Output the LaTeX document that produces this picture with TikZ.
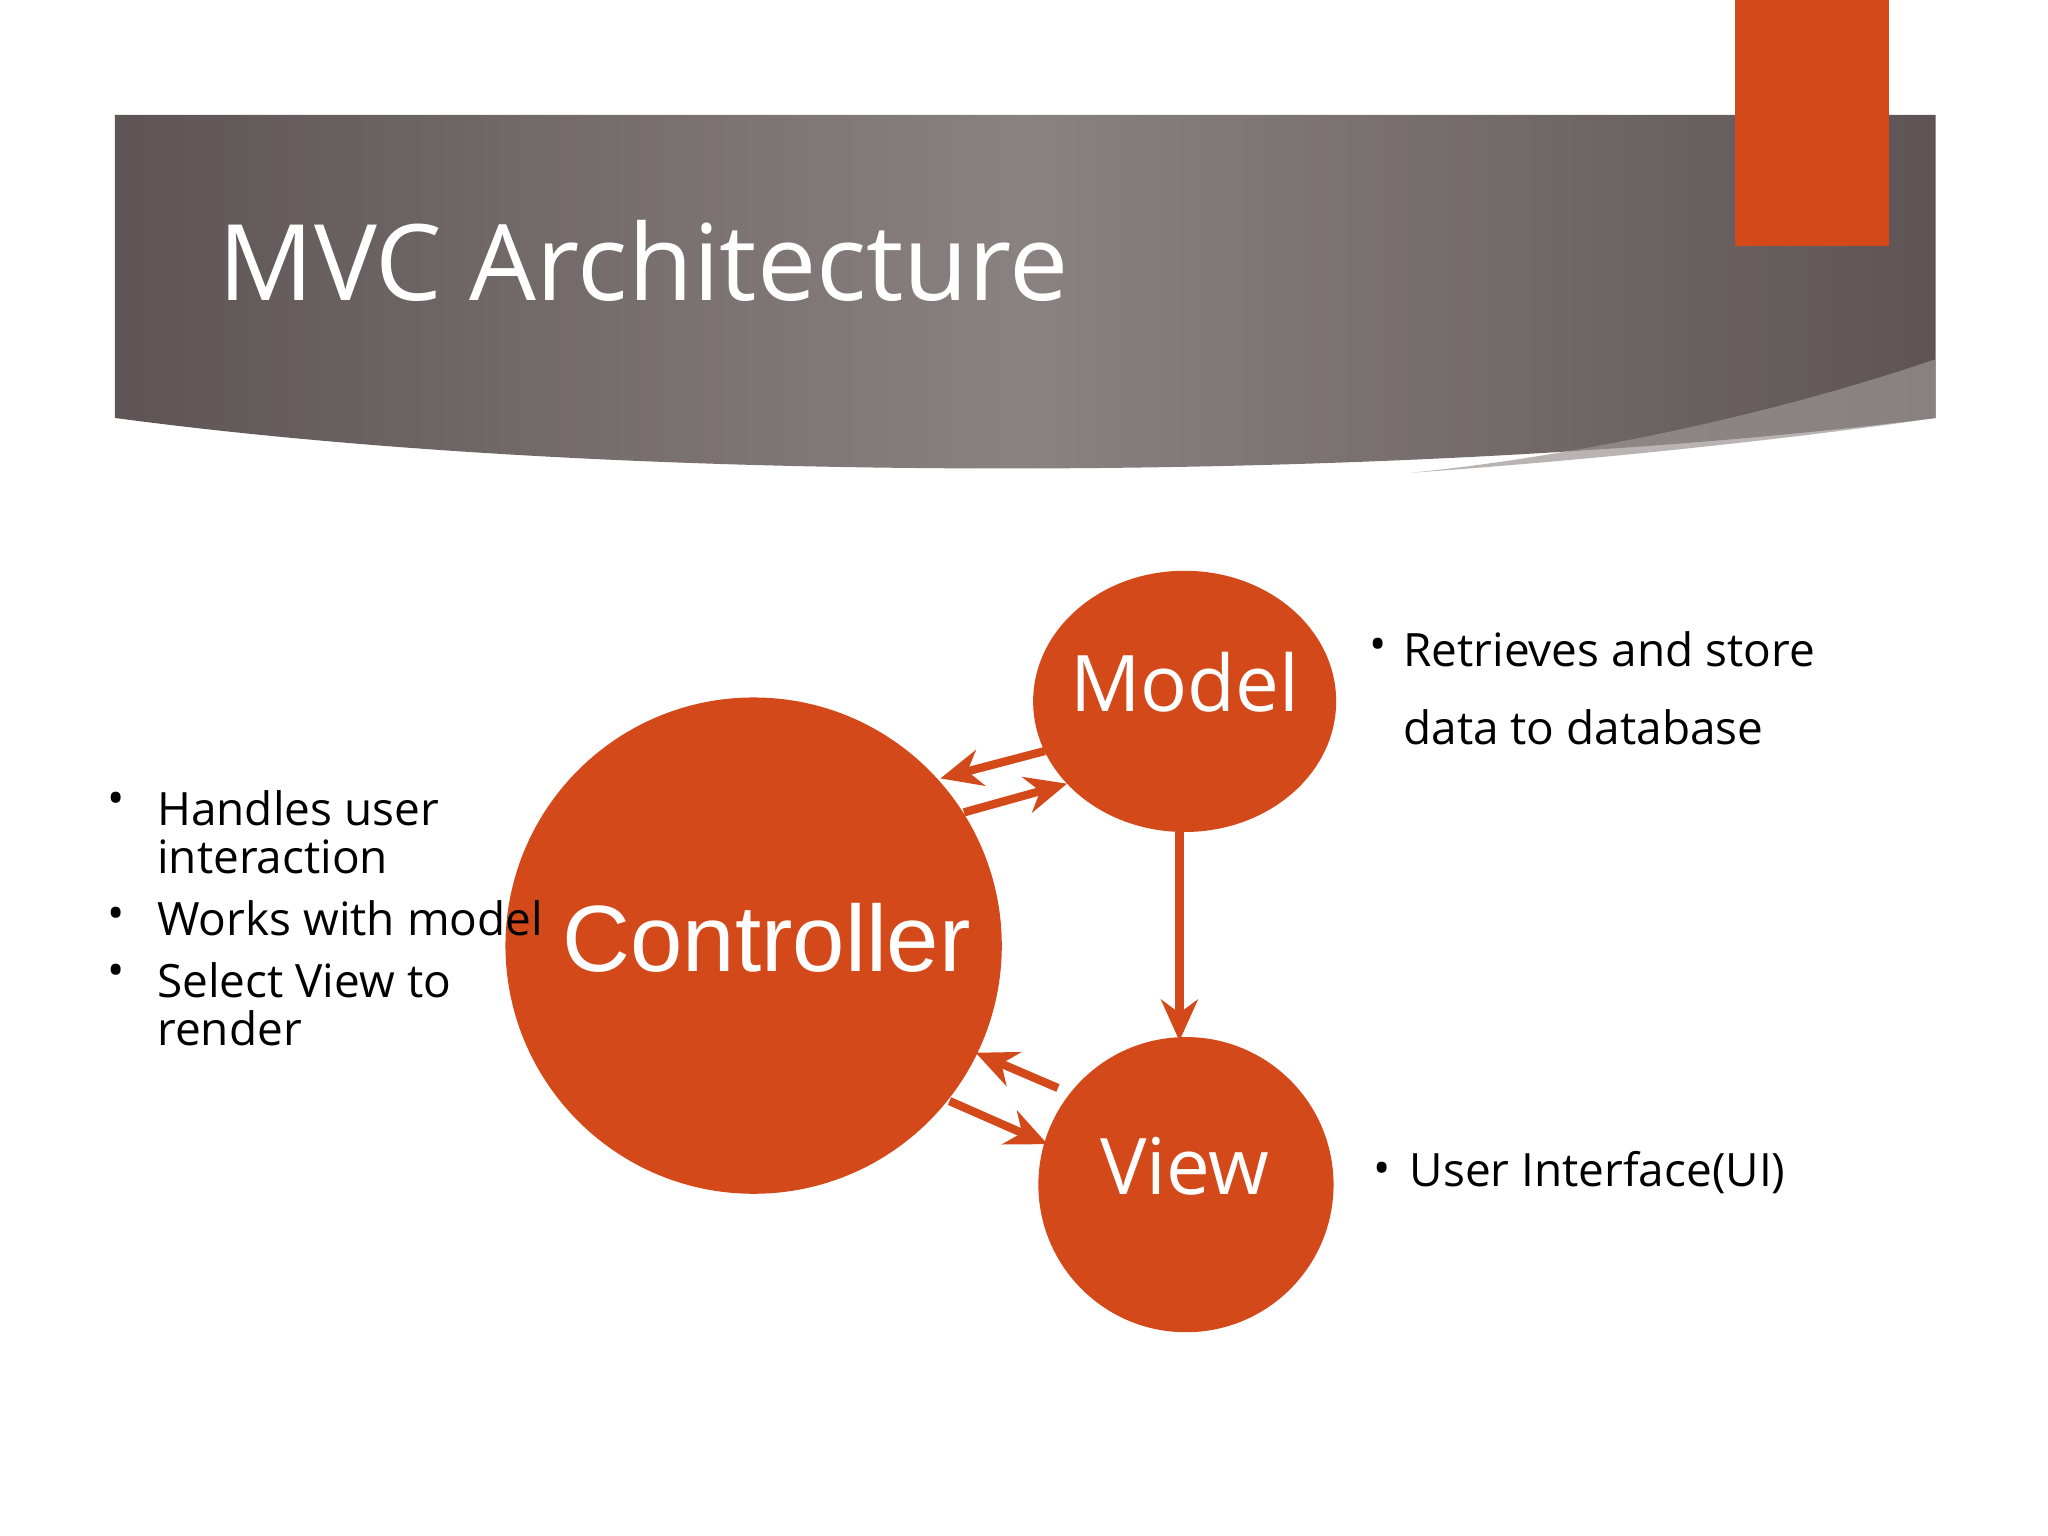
\documentclass[tikz,border=0pt]{standalone}
\usepackage{fontspec}
\setmainfont{Open Sans}
\newfontfamily\arialf{Liberation Sans}
\usetikzlibrary{arrows.meta}
\definecolor{org}{HTML}{D4491A}
\definecolor{gdark}{HTML}{5E5455}
\definecolor{glight}{HTML}{8A8280}
\begin{document}
\begin{tikzpicture}[x=0.01cm,y=-0.01cm,
  circ/.style={fill=org,draw=none},
  lbl/.style={text=white,font=\fontsize{17}{20}\selectfont},
  bul/.style={anchor=west,font=\fontsize{10}{12.5}\selectfont,align=left},
  conn/.style={draw=org,line width=1.8pt,-{Stealth[length=9pt,width=8pt]}}]
\useasboundingbox (0,0) rectangle (1568,1176);
\fill[white] (0,0) rectangle (1568,1176);
% banner
\shade[left color=gdark,right color=gdark,middle color=glight]
  (88,88) -- (1482,88) -- (1482,320) .. controls (1100,368) and (500,375) .. (88,320) -- cycle;
\fill[glight!85!white,opacity=0.7] (1482,275) .. controls (1350,320) and (1200,350) .. (1080,362) .. controls (1250,350) and (1400,332) .. (1482,320) -- cycle;
\fill[org] (1328,0) rectangle (1446,188);
\node[anchor=west,text=white,font=\fontsize{23}{28}\selectfont] (title) at (155,200) {MVC Architecture};
% circles
\path[circ] (907,537) ellipse [x radius=116,y radius=100];
\node (model) at (907,537) {};
\path[circ] (577,724) circle [radius=190];
\node (ctrl) at (577,724) {};
\path[circ] (908,907) circle [radius=113];
\node (view) at (908,907) {};
\node[lbl] (ml) at (907,522) {Model};
\node[text=white,font=\arialf\fontsize{20.5}{24}\selectfont] (cl) at (587,718) {Controller};
\node[lbl] (vl) at (907,893) {View};
% connectors
\coordinate (a1) at (800,575); \coordinate (a2) at (720,596);
\coordinate (b1) at (738,622); \coordinate (b2) at (817,600);
\coordinate (c1) at (903,637); \coordinate (c2) at (903,797);
\coordinate (d1) at (810,833); \coordinate (d2) at (747,806);
\coordinate (e1) at (727,843); \coordinate (e2) at (802,876);
\draw[conn] (a1) -- (a2);
\draw[conn] (b1) -- (b2);
\draw[conn] (c1) -- (c2);
\draw[conn] (d1) -- (d2);
\draw[conn] (e1) -- (e2);
% texts
\node[bul] (l1) at (70,615) {•};
\node[bul] (l1t) at (108,637) {Handles user\\[-2pt]interaction};
\node[bul] (l2) at (70,703) {•};
\node[bul] (l2t) at (108,703) {Works with model};
\node[bul] (l3) at (70,747) {•};
\node[bul] (l3t) at (108,769) {Select View to\\[-2pt]render};
\node[bul] (r1) at (1036,497) {•};
\node[bul] (r1t) at (1062,497) {Retrieves and store};
\node[bul] (r2t) at (1062,557) {data to database};
\node[bul] (r3) at (1039,898) {•};
\node[bul] (r3t) at (1067,898) {User Interface(UI)};
\end{tikzpicture}
\end{document}
